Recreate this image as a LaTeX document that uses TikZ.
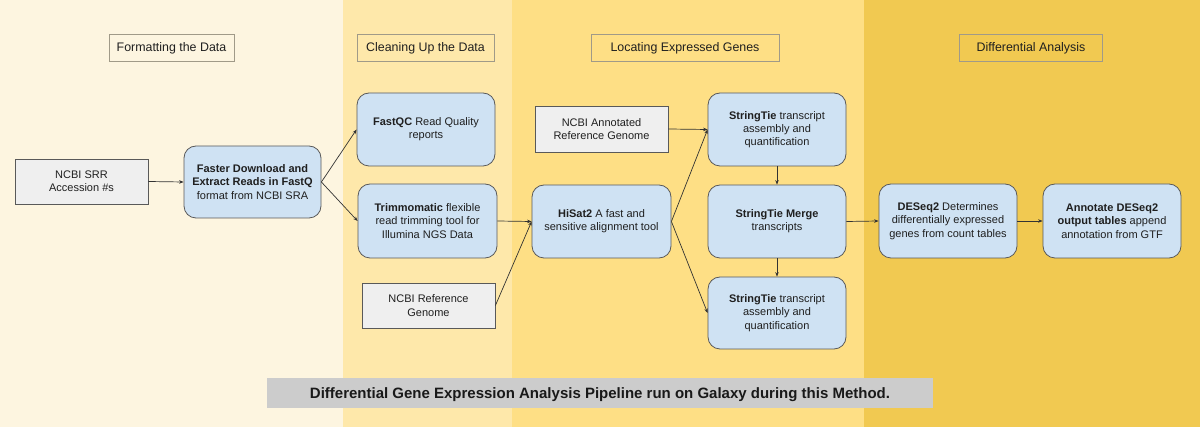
\documentclass[tikz,border=0pt]{standalone}
\usepackage{fontspec}
\setmainfont{Liberation Sans}
\usetikzlibrary{arrows.meta}
\definecolor{bandA}{HTML}{FDF5E0}
\definecolor{bandB}{HTML}{FEE8AA}
\definecolor{bandC}{HTML}{FEDF85}
\definecolor{bandD}{HTML}{F1C951}
\definecolor{blueF}{HTML}{CFE2F3}
\definecolor{grayF}{HTML}{EFEFEF}
\definecolor{edgeC}{HTML}{595959}
\definecolor{hdrC}{HTML}{A09A88}
\definecolor{capF}{HTML}{CCCCCC}
\tikzset{
  base/.style={font=\fontsize{11}{13.3}\selectfont, align=center, text=black!88, inner sep=2pt},
  bluebox/.style={base, draw=edgeC, line width=0.8pt, fill=blueF, rounded corners=12pt, minimum width=138pt, minimum height=73pt},
  graybox/.style={base, draw=edgeC, line width=0.8pt, fill=grayF, minimum width=133pt, minimum height=45pt},
  hdrbox/.style={base, font=\fontsize{12.4}{14}\selectfont, draw=hdrC, line width=0.8pt, minimum height=27pt, text depth=0pt},
  conn/.style={draw=black!80, line width=0.7pt, -{Stealth[length=4.5pt,width=3.5pt]}}
}
\begin{document}
\begin{tikzpicture}[x=1pt,y=-1pt]
\useasboundingbox (0,0) rectangle (1200,427);
\fill[bandA] (0,0) rectangle (343,427);
\fill[bandB] (343,0) rectangle (512,427);
\fill[bandC] (512,0) rectangle (864,427);
\fill[bandD] (864,0) rectangle (1200,427);

\node[hdrbox, minimum width=125pt] (h1) at (171.5,47.5) {Formatting the Data};
\node[hdrbox, minimum width=137pt] (h2) at (425.5,47.5) {Cleaning Up the Data};
\node[hdrbox, minimum width=188pt] (h3) at (685,47.5) {Locating Expressed Genes};
\node[hdrbox, minimum width=143pt] (h4) at (1031,47.5) {Differential Analysis};

\node[graybox] (srr) at (81.5,181.5) {NCBI SRR\\Accession \#s};
\node[bluebox, minimum width=137pt, minimum height=72pt] (fdl) at (252.5,182) {\textbf{Faster Download and}\\\textbf{Extract Reads in FastQ}\\format from NCBI SRA};
\node[bluebox] (fastqc) at (426,129.5) {\textbf{FastQC} Read Quality\\reports};
\node[bluebox, minimum width=139pt, minimum height=74pt] (trim) at (427.5,221) {\textbf{Trimmomatic} flexible\\read trimming tool for\\Illumina NGS Data};
\node[graybox] (ref) at (428.5,305.5) {NCBI Reference\\Genome};
\node[graybox, minimum height=46pt] (annot) at (601.5,129) {NCBI Annotated\\Reference Genome};
\node[bluebox, minimum width=139pt] (hisat) at (601.5,221.5) {\textbf{HiSat2} A fast and\\sensitive alignment tool};
\node[bluebox] (st1) at (777,129.5) {\textbf{StringTie} transcript\\assembly and\\quantification};
\node[bluebox] (merge) at (777,221.5) {\textbf{StringTie Merge}\\transcripts};
\node[bluebox, minimum height=72pt] (st3) at (777,313) {\textbf{StringTie} transcript\\assembly and\\quantification};
\node[bluebox, minimum height=74pt] (deseq) at (948,221) {\textbf{DESeq2} Determines\\differentially expressed\\genes from count tables};
\node[bluebox, minimum height=74pt] (ann2) at (1112,221) {\textbf{Annotate DESeq2}\\\textbf{output tables} append\\annotation from GTF};

\node[fill=capF, minimum width=666pt, minimum height=30pt, inner sep=0pt, text depth=0pt, font=\fontsize{15}{17}\selectfont\bfseries, text=black!90] (cap) at (600,393) {Differential Gene Expression Analysis Pipeline run on Galaxy during this Method.};

\draw[conn] (srr.east) -- (fdl.west);
\draw[conn] (fdl.east) -- (fastqc.west);
\draw[conn] (fdl.east) -- (trim.west);
\draw[conn] (trim.east) -- (hisat.west);
\draw[conn] (ref.east) -- (hisat.west);
\draw[conn] (annot.east) -- (st1.west);
\draw[conn] (hisat.east) -- (st1.west);
\draw[conn] (hisat.east) -- (st3.west);
\draw[conn] (st1.south) -- (merge.north);
\draw[conn] (merge.south) -- (st3.north);
\draw[conn] (merge.east) -- (deseq.west);
\draw[conn] (deseq.east) -- (ann2.west);
\end{tikzpicture}
\end{document}
